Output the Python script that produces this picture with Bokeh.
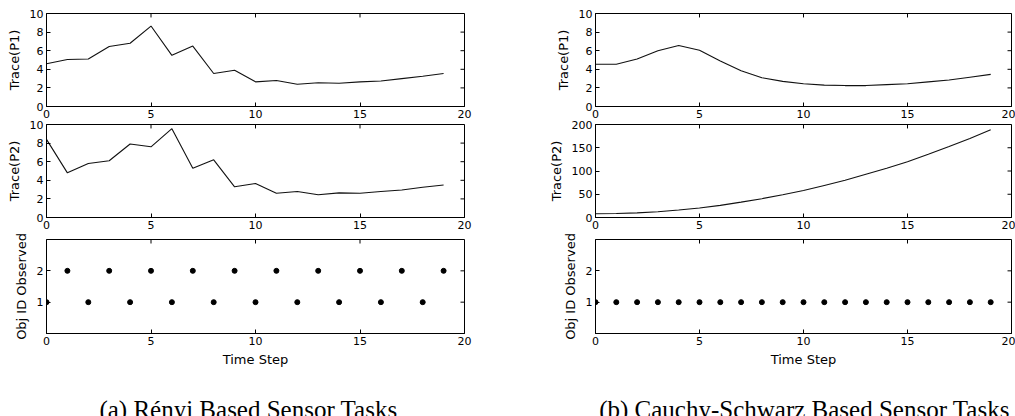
from bokeh.plotting import figure
from bokeh.layouts import row, column
from bokeh.models import LinearAxis, FixedTicker, Range1d, Label
from bokeh.embed import file_html
from bokeh.resources import INLINE

# ---- data -------------------------------------------------------------
steps = list(range(20))

renyi_trace_p1 = [4.6, 5.05, 5.1, 6.45, 6.8, 8.65, 5.5, 6.5, 3.55, 3.9,
                  2.65, 2.8, 2.4, 2.55, 2.5, 2.65, 2.75, 3.0, 3.25, 3.55]
renyi_trace_p2 = [8.4, 4.8, 5.8, 6.1, 7.9, 7.6, 9.55, 5.3, 6.2, 3.3,
                  3.65, 2.6, 2.8, 2.45, 2.65, 2.6, 2.8, 2.95, 3.25, 3.5]
renyi_obj = [1, 2, 1, 2, 1, 2, 1, 2, 1, 2, 1, 2, 1, 2, 1, 2, 1, 2, 1, 2]

cs_trace_p1 = [4.55, 4.55, 5.1, 6.0, 6.55, 6.05, 4.9, 3.85, 3.1, 2.7,
               2.45, 2.3, 2.25, 2.25, 2.35, 2.45, 2.65, 2.85, 3.15, 3.45]
cs_trace_p2 = [8, 8.7, 10, 12.5, 16, 20.5, 26, 33, 40.5, 49,
               58, 69, 80, 93, 106, 120, 136, 152.5, 170, 188.5]
cs_obj = [1, 1, 1, 1, 1, 1, 1, 1, 1, 1, 1, 1, 1, 1, 1, 1, 1, 1, 1, 1]

x_ticks = [0, 5, 10, 15, 20]
trace_ticks = [0, 2, 4, 6, 8, 10]
cs_p2_ticks = [0, 50, 100, 150, 200]
obj_ticks = [1, 2]

FONT = "DejaVu Sans"
CAPTION_FONT = "Liberation Serif"
FRAME_W, FRAME_H = 418, 94
TICK_LEN = 4  # px, ticks point into the frame
CAPTION_H = 46


def style_axis(ax):
    ax.major_tick_in = TICK_LEN
    ax.major_tick_out = 0
    ax.minor_tick_line_color = None
    ax.axis_line_color = "black"
    ax.major_tick_line_color = "black"
    ax.major_label_text_font = FONT
    ax.major_label_text_color = "black"
    ax.major_label_text_font_size = "11px"
    ax.major_label_standoff = 3
    ax.axis_label_text_font = FONT
    ax.axis_label_text_font_style = "normal"
    ax.axis_label_text_font_size = "13px"
    ax.axis_label_text_color = "black"


def mirror_ticks(p, x_hi, y_lo, y_hi, yticks):
    # inward ticks on the top and right edges of the frame
    dy = (y_hi - y_lo) * TICK_LEN / FRAME_H
    dx = x_hi * TICK_LEN / FRAME_W
    n = len(x_ticks)
    p.segment(x0=x_ticks, y0=[y_hi] * n, x1=x_ticks, y1=[y_hi - dy] * n,
              line_color="black", line_width=1)
    m = len(yticks)
    p.segment(x0=[x_hi] * m, y0=yticks, x1=[x_hi - dx] * m, y1=yticks,
              line_color="black", line_width=1)


def panel(xs, ys, kind, ylabel, y_lo, y_hi, yticks, left, right, top, bottom,
          xlabel=None):
    p = figure(width=left + FRAME_W + right, height=top + FRAME_H + bottom,
               x_range=Range1d(0, 20), y_range=Range1d(y_lo, y_hi),
               output_backend="svg", toolbar_location=None,
               min_border_left=left, min_border_right=right,
               min_border_top=top, min_border_bottom=bottom,
               x_axis_type=None, y_axis_type=None)
    p.outline_line_color = "black"
    p.outline_line_width = 1
    p.outline_line_alpha = 1
    p.xgrid.visible = False
    p.ygrid.visible = False
    p.background_fill_color = "white"
    p.border_fill_color = "white"

    xb = LinearAxis(ticker=FixedTicker(ticks=x_ticks))
    style_axis(xb)
    if xlabel:
        xb.axis_label = xlabel
        xb.axis_label_standoff = 4
    p.add_layout(xb, "below")

    yl = LinearAxis(ticker=FixedTicker(ticks=yticks))
    style_axis(yl)
    yl.axis_label = ylabel
    yl.axis_label_standoff = 5
    p.add_layout(yl, "left")

    mirror_ticks(p, 20, y_lo, y_hi, yticks)

    if kind == "line":
        p.line(xs, ys, line_color="#111111", line_width=1.1)
    else:
        p.scatter(xs, ys, size=5, fill_color="black", line_color="black")
    return p


def caption_strip(text, width, shift):
    # caption strip under each column; the column lines its frame up with the
    # panels above, so the label is centred relative to that shared frame
    c = figure(width=width, height=CAPTION_H,
               x_range=Range1d(0, 1), y_range=Range1d(0, 1),
               output_backend="svg", toolbar_location=None,
               min_border=0, x_axis_type=None, y_axis_type=None)
    c.outline_line_color = None
    c.xgrid.visible = False
    c.ygrid.visible = False
    c.add_layout(Label(x=FRAME_W / 2 + shift, y=7,
                       x_units="screen", y_units="screen",
                       text=text, text_align="center",
                       text_baseline="alphabetic", text_font=CAPTION_FONT,
                       text_font_size="25px", text_color="black"))
    return c


def stack(p1, p2, obj, p2_lo, p2_hi, p2_ticks, left, right, caption, shift):
    a = panel(steps, p1, "line", "Trace(P1)", 0, 10, trace_ticks,
              left, right, 13, 13)
    b = panel(steps, p2, "line", "Trace(P2)", p2_lo, p2_hi, p2_ticks,
              left, right, 4, 13)
    c = panel(steps, obj, "dots", "Obj ID Observed", 0, 3, obj_ticks,
              left, right, 8, 37, xlabel="Time Step")
    cap = caption_strip(caption, left + FRAME_W + right, shift)
    return column(a, b, c, cap, spacing=0)


left_col = stack(renyi_trace_p1, renyi_trace_p2, renyi_obj, 0, 10, trace_ticks,
                 46, 81, "(a) Rényi Based Sensor Tasks", -7)
right_col = stack(cs_trace_p1, cs_trace_p2, cs_obj, 0, 200, cs_p2_ticks,
                  48, 4, "(b) Cauchy-Schwarz Based Sensor Tasks", 0)

layout = row(left_col, right_col, spacing=0)

open("out.html", "w").write(file_html(layout, INLINE))
